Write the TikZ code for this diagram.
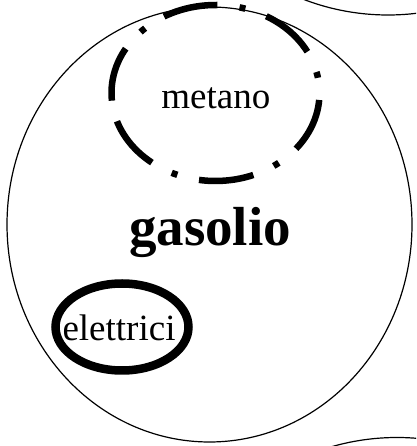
\documentclass[tikz,border=0pt]{standalone}
\usepackage{fontspec}
\setmainfont{Liberation Serif}
\begin{document}
\begin{tikzpicture}[x=1pt,y=1pt,
  thinset/.style={draw=black,line width=1.2pt},
  dashdotset/.style={draw=black,line width=6.5pt,dash pattern=on 55pt off 22.3pt on 6pt off 22.3pt},
  thickset/.style={draw=black,line width=8.5pt},
  lbl/.style={inner sep=0pt,anchor=base,font=\fontsize{37}{40}\selectfont},
  biglbl/.style={inner sep=0pt,anchor=base,font=\fontsize{55}{60}\selectfont\bfseries}]
\useasboundingbox (0,0) rectangle (416,446);
\clip (0,0) rectangle (416,446);
% other sets, partly visible
\draw[thinset] (388,666) circle[radius=235];
\draw[thinset] (397,-226.5) circle[radius=235];
% gasolio
\draw[thinset] (209.5,221.5) ellipse[x radius=202.5,y radius=217.5];
% metano
\coordinate (mstart) at ({215.5+104*cos(185)},{353+88*sin(185)});
\draw[dashdotset] (mstart) arc[start angle=185,end angle=-175,x radius=104,y radius=88];
% elettrici
\draw[thickset] (122,119) ellipse[x radius=66.5,y radius=43.5];
\node[lbl] (metano) at (215.8,337.7) {metano};
\node[biglbl] (gasolio) at (210,200.3) {gasolio};
\node[lbl] (elettrici) at (119,105.3) {elettrici};
\end{tikzpicture}
\end{document}
